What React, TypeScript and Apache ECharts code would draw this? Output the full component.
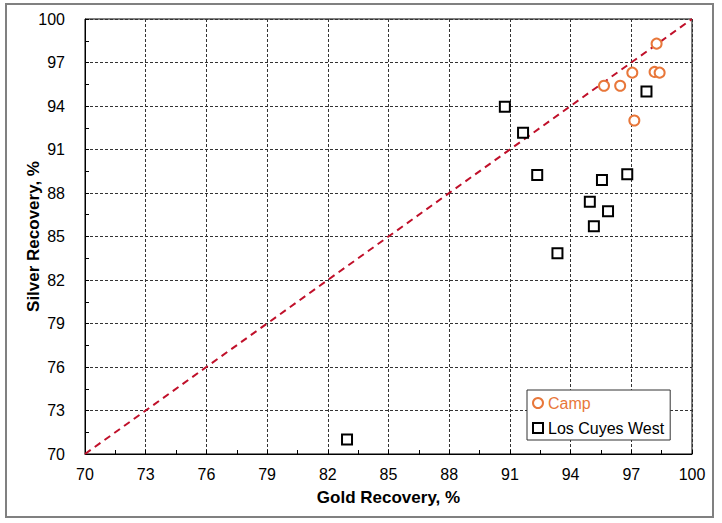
import React, { useEffect, useRef } from "react";
import * as echarts from "echarts";

const campX = [95.65, 96.45, 97.05, 98.25, 98.15, 98.4, 97.15];
const campY = [95.4, 95.4, 96.3, 98.3, 96.35, 96.3, 93.0];
const lcwX = [97.75, 90.75, 91.65, 92.35, 95.55, 96.8, 94.95, 95.85, 95.15, 93.35, 82.95];
const lcwY = [95.0, 93.95, 92.15, 89.25, 88.9, 89.3, 87.4, 86.75, 85.7, 83.85, 71.0];
const parityLine = [[70, 70], [100, 100]];
const seriesNames = ["Camp", "Los Cuyes West"];

const FONT = "'Liberation Sans', Arial, sans-serif";
const ORANGE = "#e8773a";

export default function App() {
  const ref = useRef<HTMLDivElement>(null);
  useEffect(() => {
    const chart = echarts.init(ref.current!, null, { renderer: "svg" });
    const axisCommon = {
      type: "value" as const,
      min: 70,
      max: 100,
      interval: 3,
      axisLine: { show: true, lineStyle: { color: "#000", width: 1 } },
      axisTick: { show: true, inside: true, length: 4, lineStyle: { color: "#000" } },
      minorTick: { show: true, splitNumber: 2, length: 4, lineStyle: { color: "#000" } },
      splitLine: { show: true, lineStyle: { color: "#333", type: [3, 2] as any, width: 1 } },
      axisLabel: { color: "#000", fontSize: 16, fontFamily: FONT },
      nameTextStyle: { color: "#000", fontSize: 17, fontWeight: "bold" as const, fontFamily: FONT },
      nameLocation: "middle" as const,
      nameMoveOverlap: false,
    };
    const legendText = { fontSize: 16, lineHeight: 16, fontFamily: FONT };
    chart.setOption({
      animation: false,
      backgroundColor: "#fff",
      grid: {
        left: 85,
        right: 30,
        top: 19,
        bottom: 69,
        show: true,
        borderColor: "#000",
        borderWidth: 1,
        backgroundColor: "transparent",
      },
      xAxis: {
        ...axisCommon,
        name: "Gold Recovery, %",
        nameGap: 35,
        axisLabel: { ...axisCommon.axisLabel, margin: 12 },
      },
      yAxis: {
        ...axisCommon,
        name: "Silver Recovery, %",
        nameGap: 43,
        axisLabel: { ...axisCommon.axisLabel, margin: 20 },
      },
      legend: {
        orient: "vertical",
        left: 527,
        top: 390,
        backgroundColor: "#fff",
        borderColor: "#333",
        borderWidth: 1,
        borderRadius: 0,
        padding: [5, 6, 4, 5],
        itemGap: 9,
        itemWidth: 10,
        itemHeight: 10,
        textStyle: legendText,
        data: [
          {
            name: seriesNames[0],
            icon: "circle",
            itemStyle: { color: "#fff", borderColor: ORANGE, borderWidth: 2 },
            textStyle: { ...legendText, color: ORANGE },
          },
          {
            name: seriesNames[1],
            icon: "rect",
            itemStyle: { color: "#fff", borderColor: "#000", borderWidth: 2 },
            textStyle: { ...legendText, color: "#000" },
          },
        ],
      },
      graphic: [
        {
          type: "rect",
          shape: { x: 6, y: 4, width: 707, height: 513 },
          style: { fill: "none", stroke: "#808080", lineWidth: 2 },
          silent: true,
        },
      ],
      series: [
        {
          type: "line",
          name: "parity",
          data: parityLine,
          symbol: "none",
          lineStyle: { color: "#c0102a", width: 2, type: [7, 5] as any },
          silent: true,
          z: 1,
        },
        {
          type: "scatter",
          name: seriesNames[1],
          data: lcwX.map((x, i) => [x, lcwY[i]]),
          symbol: "rect",
          symbolSize: 10,
          itemStyle: { color: "#fff", borderColor: "#000", borderWidth: 2, opacity: 1 },
          z: 3,
        },
        {
          type: "scatter",
          name: seriesNames[0],
          data: campX.map((x, i) => [x, campY[i]]),
          symbol: "circle",
          symbolSize: 10,
          itemStyle: { color: "#fff", borderColor: ORANGE, borderWidth: 2, opacity: 1 },
          z: 3,
        },
      ],
    });
    return () => chart.dispose();
  }, []);
  return (
    <div
      ref={ref}
      style={{ position: "fixed", left: 0, top: 0, width: 722, height: 523 }}
    />
  );
}
